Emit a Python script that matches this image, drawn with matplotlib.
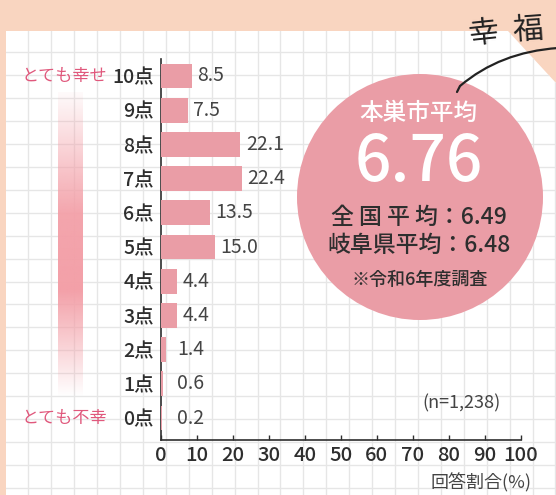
import numpy as np
import matplotlib.pyplot as plt
from matplotlib.patches import Polygon, Circle, PathPatch
from matplotlib.path import Path

plt.rcParams['font.family'] = ['Noto Sans CJK JP', 'DejaVu Sans']
plt.rcParams['font.weight'] = 'medium'

## data
scores = [0, 1, 2, 3, 4, 5, 6, 7, 8, 9, 10]
score_labels = ['0点', '1点', '2点', '3点', '4点', '5点', '6点', '7点', '8点', '9点', '10点']
shares = [0.2, 0.6, 1.4, 4.4, 4.4, 15.0, 13.5, 22.4, 22.1, 7.5, 8.5]
x_ticks = [0, 10, 20, 30, 40, 50, 60, 70, 80, 90, 100]

city_name = '本巣市平均'
city_avg = '6.76'
national_line = '全 国 平 均：6.49'
pref_line = '岐阜県平均：6.48'
survey_note = '※令和6年度調査'
sample_note = '(n=1,238)'

## colours
peach = '#F9D5C0'
bar_pink = '#EA9DA6'
label_pink = '#E0587C'
dark = '#2E2E2E'
grey_txt = '#444444'

W, H = 556, 495
fig = plt.figure(figsize=(W / 100, H / 100), dpi=100, facecolor=peach)

## background layer in pixel coordinates
bg = fig.add_axes([0, 0, 1, 1])
bg.set_xlim(0, W)
bg.set_ylim(H, 0)
bg.axis('off')

panel = Polygon([(6, 31), (508, 31), (556, 83), (556, 495), (6, 495)],
                closed=True, facecolor='white', edgecolor='none', zorder=0)
bg.add_patch(panel)

## squared paper grid
step = 22.92
for gx in np.arange(28.3, W, step):
    ln = bg.plot([gx, gx], [0, H], color='#E6E6E6', lw=1, zorder=1)[0]
    ln.set_clip_path(panel)
for gy in np.arange(52.3, H, step):
    ln = bg.plot([0, W], [gy, gy], color='#E6E6E6', lw=1, zorder=1)[0]
    ln.set_clip_path(panel)

## gradient bar on the left
ys = np.linspace(0, 1, 200)
alpha = np.interp(ys, [0, 0.4, 0.65, 1], [0.05, 0.95, 1, 0])
grad = np.zeros((200, 1, 4))
grad[:, 0, 0] = 243 / 255
grad[:, 0, 1] = 160 / 255
grad[:, 0, 2] = 168 / 255
grad[:, 0, 3] = alpha
bg.imshow(grad, extent=[58, 83, 397, 92], aspect='auto', zorder=2, interpolation='bilinear')

bg.text(107, 76, 'とても幸せ', color=label_pink, fontsize=12.3, fontweight='normal',
        ha='right', va='center', zorder=3)
bg.text(107, 418, 'とても不幸', color=label_pink, fontsize=12.3, fontweight='normal',
        ha='right', va='center', zorder=3)

## the average circle
bg.add_patch(Circle((420, 197), 123, facecolor=bar_pink, edgecolor='none', zorder=3))
bg.text(418, 113, city_name, color='white', fontsize=17, ha='center', va='center', zorder=4)
bg.text(419, 163, city_avg, color='white', fontsize=46, ha='center', va='center', zorder=4)
bg.text(419, 217, national_line, color=dark, fontsize=16.5, ha='center', va='center', zorder=4)
bg.text(419, 245, pref_line, color=dark, fontsize=16.5, ha='center', va='center', zorder=4)
bg.text(420, 280, survey_note, color=dark, fontsize=13, ha='center', va='center', zorder=4)

## hand written caption and leader
bg.text(484, 34, '幸', color='#222222', fontsize=22, fontweight='normal',
        ha='center', va='center', rotation=6, zorder=5)
bg.text(528, 30, '福', color='#222222', fontsize=22, fontweight='normal',
        ha='center', va='center', rotation=4, zorder=5)
leader = Path([(558, 48), (500, 52), (460, 86), (457, 92)],
              [Path.MOVETO, Path.CURVE3, Path.CURVE3, Path.LINETO])
bg.add_patch(PathPatch(leader, facecolor='none', edgecolor='#222222', lw=1.6,
                       capstyle='round', zorder=5))

bg.text(461, 403, sample_note, color=grey_txt, fontsize=13, fontweight='normal',
        ha='center', va='center', zorder=5)
bg.text(532, 483, '回答割合(%)', color=grey_txt, fontsize=13, fontweight='normal',
        ha='right', va='center', zorder=5)

## bar chart
ax = fig.add_axes([161 / W, 1 - 440 / H, (520.6 - 161) / W, (440 - 59) / H])
ax.patch.set_alpha(0)
ax.barh(scores, shares, height=0.72, color=bar_pink, zorder=3)
for s, v in zip(scores, shares):
    ax.text(max(v, 3) + 1.5, s, f'{v:.1f}', color=grey_txt, fontsize=14,
            fontweight='normal', ha='left', va='center')

ax.set_xlim(0, 100)
ax.set_ylim(-0.643, 10.497)
ax.set_xticks(x_ticks)
ax.set_xticklabels([str(t) for t in x_ticks], fontsize=14.5, color=dark)
ax.set_yticks(scores)
ax.set_yticklabels(score_labels, fontsize=14, color=dark)
ax.tick_params(axis='x', direction='in', length=3.6, width=1, color=dark, pad=4)
ax.tick_params(axis='y', length=0, pad=5)
for side in ['top', 'right']:
    ax.spines[side].set_visible(False)
for side in ['left', 'bottom']:
    ax.spines[side].set_color(dark)
    ax.spines[side].set_linewidth(1.2)

fig.savefig('out.png', dpi=100, facecolor=peach)
